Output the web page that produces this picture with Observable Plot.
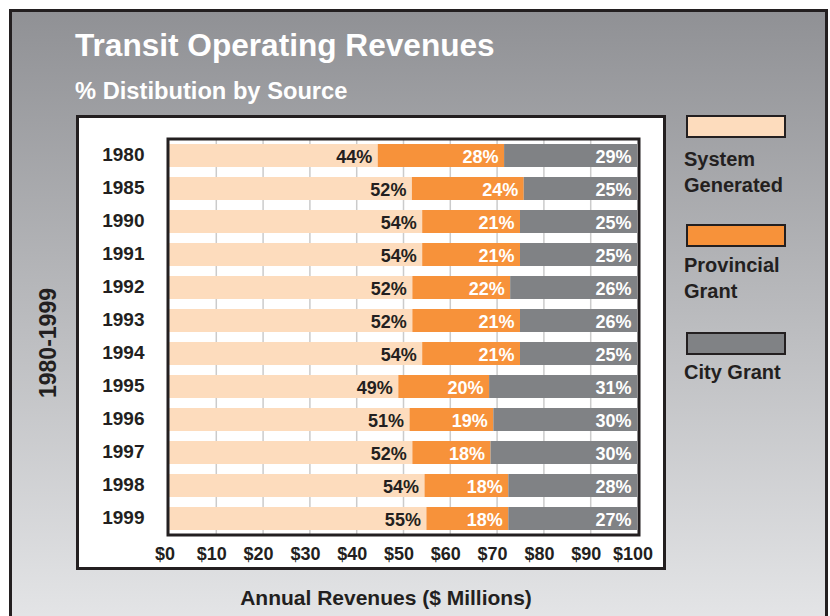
<!DOCTYPE html>
<html>
<head>
<meta charset="utf-8">
<script src="https://cdn.jsdelivr.net/npm/d3@7"></script>
<script src="https://cdn.jsdelivr.net/npm/@observablehq/plot@0.6"></script>
<style>
  html, body { margin: 0; padding: 0; background: #ffffff; }
  body { font-family: "Liberation Sans", Arial, Helvetica, sans-serif; font-weight: bold; }
  #page { position: relative; width: 830px; height: 616px; overflow: hidden; }
  #frame { position: absolute; left: 9px; top: 9px; width: 819px; height: 640px; box-sizing: border-box;
           border: 3px solid #231f20; background: linear-gradient(180deg, #909195 0px, #e4e5e7 610px); }
  #panel { position: absolute; left: 76px; top: 115px; width: 590px; height: 455px; box-sizing: border-box;
           border: 3px solid #231f20; background: #ffffff; }
  .t { position: absolute; line-height: 1; white-space: nowrap; }
  #title { left: 75px; top: 30.3px; font-size: 31.6px; color: #ffffff; }
  #subtitle { left: 75px; top: 79.9px; font-size: 23.7px; color: #ffffff; }
  #xtitle { left: 386px; top: 587.2px; font-size: 21px; color: #231f20; transform: translateX(-50%); }
  #ytitle { left: 47.5px; top: 343px; font-size: 23px; color: #231f20; transform: translate(-50%, -50%) rotate(-90deg); }
  .sw { position: absolute; left: 686px; width: 100px; height: 23px; box-sizing: border-box; border: 2.5px solid #231f20; }
  .lg { position: absolute; left: 684px; font-size: 20px; line-height: 26px; color: #231f20; white-space: nowrap; }
  #chart { position: absolute; left: 0; top: 0; }
</style>
</head>
<body>
<div id="page">
  <div id="frame"></div>
  <div id="panel"></div>
  <div id="title" class="t">Transit Operating Revenues</div>
  <div id="subtitle" class="t">% Distibution by Source</div>
  <div id="ytitle" class="t">1980-1999</div>
  <div id="xtitle" class="t">Annual Revenues ($ Millions)</div>
  <div id="legend"></div>
  <div id="chart"></div>
</div>
<script>
// ---- data ----
const years = ["1980", "1985", "1990", "1991", "1992", "1993", "1994", "1995", "1996", "1997", "1998", "1999"];
const sources = ["System Generated", "Provincial Grant", "City Grant"];
const legendLines = [["System", "Generated"], ["Provincial", "Grant"], ["City Grant"]];
const colors = ["#fddcbd", "#f7923a", "#808285"];
// bar segment lengths as drawn ($ millions, on a 0-100 scale)
const systemVals     = [44.6, 51.9, 54.1, 54.1, 52.0, 52.0, 54.1, 49.0, 51.4, 52.0, 54.6, 55.0];
const provincialVals = [27.0, 23.9, 20.9, 20.9, 20.9, 23.0, 20.9, 19.4, 17.9, 16.7, 17.9, 17.5];
const cityVals       = [28.4, 24.2, 25.0, 25.0, 27.1, 25.0, 25.0, 31.6, 30.7, 31.3, 27.5, 27.5];
// printed percentage labels
const systemLabels     = ["44%", "52%", "54%", "54%", "52%", "52%", "54%", "49%", "51%", "52%", "54%", "55%"];
const provincialLabels = ["28%", "24%", "21%", "21%", "22%", "21%", "21%", "20%", "19%", "18%", "18%", "18%"];
const cityLabels       = ["29%", "25%", "25%", "25%", "26%", "26%", "25%", "31%", "30%", "30%", "28%", "27%"];
const xTicks = [0, 10, 20, 30, 40, 50, 60, 70, 80, 90, 100];
const gridTicks = [10, 20, 30, 40, 50, 60, 70, 80, 90];

// ---- build table ----
const valueSets = [systemVals, provincialVals, cityVals];
const labelSets = [systemLabels, provincialLabels, cityLabels];
const rows = [];
years.forEach((y, i) => {
  sources.forEach((s, j) => {
    rows.push({year: y, source: s, value: valueSets[j][i], label: labelSets[j][i]});
  });
});

// ---- legend ----
const legend = document.getElementById("legend");
const swTops = [115, 224, 332];
const txtTops = [146, 252, 359];
sources.forEach((s, j) => {
  const sw = document.createElement("div");
  sw.className = "sw";
  sw.style.top = swTops[j] + "px";
  sw.style.background = colors[j];
  legend.appendChild(sw);
  const tx = document.createElement("div");
  tx.className = "lg";
  tx.style.top = txtTops[j] + "px";
  tx.innerHTML = legendLines[j].join("<br>");
  legend.appendChild(tx);
});

// ---- chart ----
const dark = "#231f20";
const stackOpts = {x: "value", y: "year", z: "source", order: sources};
const labelStyle = {textAnchor: "end", dx: -6, dy: 1.5, fontSize: 18, fontWeight: "bold"};
const chart = Plot.plot({
  width: 830,
  height: 616,
  marginLeft: 167.5,
  marginRight: 191.5,
  marginTop: 138.5,
  marginBottom: 81.5,
  style: {fontFamily: "'Liberation Sans', Arial, Helvetica, sans-serif", background: "transparent", overflow: "visible"},
  x: {domain: [0, 100], insetLeft: 1.5, insetRight: 1.5},
  y: {domain: years, paddingInner: 0.31, paddingOuter: 0.1},
  color: {domain: sources, range: colors},
  marks: [
    Plot.ruleX(gridTicks, {stroke: "#cbcbcb", strokeWidth: 1.5}),
    Plot.barX(rows, Plot.stackX({...stackOpts, fill: "source"})),
    Plot.text(rows, Plot.stackX2({...stackOpts, ...labelStyle, fill: dark,
      text: d => d.source === sources[0] ? d.label : null})),
    Plot.text(rows, Plot.stackX2({...stackOpts, ...labelStyle, fill: "#ffffff",
      text: d => d.source !== sources[0] ? d.label : null})),
    Plot.axisY({tickSize: 0, tickPadding: 23.5, fontSize: 19, fontWeight: "bold", fill: dark, label: null, dy: -1}),
    Plot.axisX(xTicks, {tickSize: 0, tickPadding: 12, fontSize: 18, fontWeight: "bold", fill: dark, label: null, dx: -4.5, tickFormat: d => "$" + d}),
    Plot.frame({stroke: dark, strokeWidth: 3})
  ]
});
document.getElementById("chart").appendChild(chart);
</script>
</body>
</html>
